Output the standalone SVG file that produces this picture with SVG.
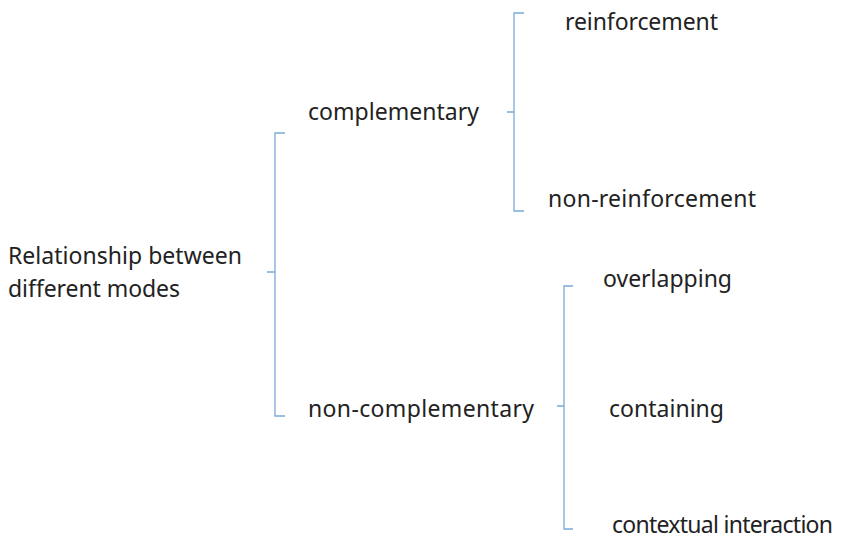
<svg xmlns="http://www.w3.org/2000/svg" width="846" height="541" viewBox="0 0 846 541">
<style>
text{font-family:"Noto Sans","Open Sans",sans-serif;font-size:23px;fill:#222}
.br{fill:none;stroke:#7aa9d8;stroke-width:1.3}
</style>
<rect width="846" height="541" fill="#fff"/>
<g id="connectors">
<path class="br" d="M285,133 H275 V416 H285 M275,272 H267"/>
<path class="br" d="M524,13 H514 V211 H524 M514,112 H507"/>
<path class="br" d="M573,286 H564 V529 H573 M564,406 H557"/>
</g>
<g id="root"><text x="8" y="264" textLength="234">Relationship between</text><text x="8" y="297" textLength="172">different modes</text></g>
<g id="complementary"><text x="308" y="120" textLength="171">complementary</text></g>
<g id="reinforcement"><text x="565" y="30" textLength="153">reinforcement</text></g>
<g id="non-reinforcement"><text x="548" y="207" textLength="208">non-reinforcement</text></g>
<g id="non-complementary"><text x="308" y="417" textLength="226">non-complementary</text></g>
<g id="overlapping"><text x="603" y="287" textLength="129">overlapping</text></g>
<g id="containing"><text x="609" y="417" textLength="115">containing</text></g>
<g id="contextual"><text x="612" y="533" textLength="221">contextual interaction</text></g>
</svg>
